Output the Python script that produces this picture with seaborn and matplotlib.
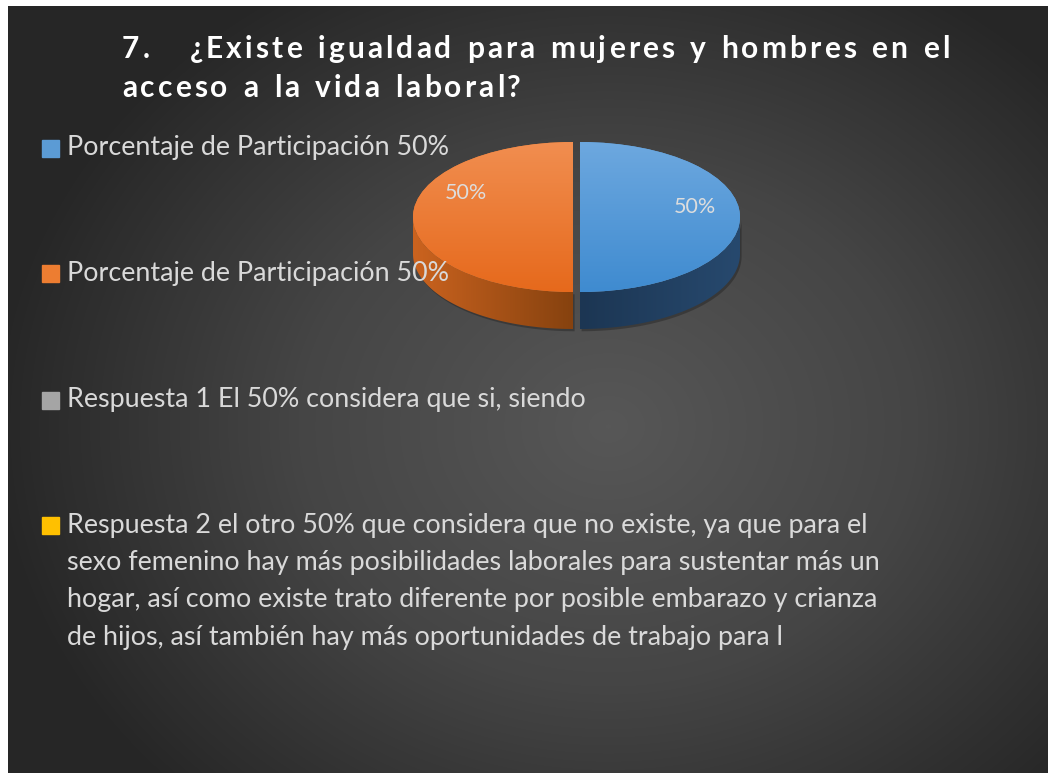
import numpy as np
import matplotlib.pyplot as plt
import seaborn as sns
from matplotlib.patches import Rectangle, Polygon
from matplotlib.colors import LinearSegmentedColormap

sns.set_theme(style="white")
plt.rcParams['font.family'] = ['Lato', 'DejaVu Sans']

# data
title_lines = ["7.   ¿Existe igualdad para mujeres y hombres en el",
               "acceso a la vida laboral?"]
categories = ["Porcentaje de Participación 50%",
              "Porcentaje de Participación 50%",
              "Respuesta 1 El 50% considera que si, siendo",
              "Respuesta 2 el otro 50% que considera que no existe, ya que para el\n"
              "sexo femenino hay más posibilidades laborales para sustentar más un\n"
              "hogar, así como existe trato diferente por posible embarazo y crianza\n"
              "de hijos, así también hay más oportunidades de trabajo para l"]
shares = [50, 50]
cat_colors = ["#5B9BD5", "#ED7D31", "#A5A5A5", "#FFC000"]
top_grad = [("#6DA8DF", "#3F8BD0"), ("#F18E50", "#E6691C")]
side_grad = [("#1C3653", "#27496E"), ("#CB631F", "#86420F")]

W, H = 1055, 773
fig = plt.figure(figsize=(W / 100, H / 100), dpi=100, facecolor="white")

# radial gradient panel
bg = fig.add_axes([8 / W, 0, 1040 / W, 767 / H])
yy, xx = np.mgrid[0:767, 0:1040]
d = np.hypot((xx - 600) / 620, (yy - 420) / 520)
d = np.clip(d, 0, 1)
bg_cmap = LinearSegmentedColormap.from_list("bg", ["#575757", "#454545", "#262626"])
bg.imshow(d, cmap=bg_cmap, aspect="auto", vmin=0, vmax=1)
bg.set_axis_off()

# title with letter spacing
renderer = fig.canvas.get_renderer()
def spaced_text(x, y, s, spacing, **kw):
    for ch in s:
        t = fig.text(x / W, 1 - y / H, ch, **kw)
        bb = t.get_window_extent(renderer)
        x += bb.width + spacing
        if ch == " ":
            x += 2

title_kw = dict(color="white", fontsize=21.5, fontweight="bold", va="baseline")
spaced_text(122, 58, title_lines[0], 3.1, **title_kw)
spaced_text(122, 97, title_lines[1], 3.1, **title_kw)

# legend entries
entry_y = [148, 273, 400, 525]
line_step = 37.5
for lab, col, y in zip(categories, cat_colors, entry_y):
    fig.patches.append(Rectangle((42 / W, 1 - (y + 8.5) / H), 17 / W, 17 / H,
                                 transform=fig.transFigure, color=col))
    for k, line in enumerate(lab.split("\n")):
        fig.text(67 / W, 1 - (y + k * line_step) / H, line, color="#D9D9D9",
                 fontsize=19.4, va="center")

# 3D-ish pie
cx_px, cy_px, rx, ry = 580, 217, 160, 75
xl, yl = (-1.1, 1.1), (-1.65, 1.1)
ax = fig.add_axes([(cx_px + xl[0] * rx) / W, 1 - (cy_px - yl[0] * ry) / H,
                   (xl[1] - xl[0]) * rx / W, (yl[1] - yl[0]) * ry / H])
depth = 37 / ry
wedges, texts, autotexts = ax.pie(shares, colors=cat_colors[:2], startangle=90,
                                  counterclock=False, explode=[0, 7 / rx],
                                  autopct="%1.0f%%", pctdistance=0.72,
                                  wedgeprops=dict(linewidth=0),
                                  textprops=dict(color="#DDDDDD", fontsize=15.5))
ax.set_aspect("auto")

for i, w in enumerate(wedges):
    cx, cy = w.center
    t = np.radians(np.linspace(w.theta1, w.theta2, 300))
    t = t[np.sin(t) <= 1e-9]
    px = cx + w.r * np.cos(t)
    py = cy + w.r * np.sin(t)
    verts = np.column_stack([np.r_[px, px[::-1]], np.r_[py, py[::-1] - depth]])
    # soft shadow
    sh = Polygon(verts + [0.01, -0.03], closed=True, color="black", alpha=0.25,
                 lw=0, zorder=0.5)
    ax.add_patch(sh)
    side = Polygon(verts, closed=True, facecolor="none", edgecolor="none", zorder=1)
    ax.add_patch(side)
    g = np.linspace(0, 1, 256)[None, :]
    cm = LinearSegmentedColormap.from_list("s%d" % i, side_grad[i])
    im = ax.imshow(g, cmap=cm, extent=[px.min(), px.max(), py.min() - depth, py.max()],
                   aspect="auto", zorder=1)
    im.set_clip_path(side)
    w.set_zorder(2)
    cm2 = LinearSegmentedColormap.from_list("t%d" % i, top_grad[i])
    gv = np.linspace(0, 1, 256)[:, None]
    im2 = ax.imshow(gv, cmap=cm2, extent=[cx - 1, cx + 1, cy - 1, cy + 1],
                    aspect="auto", zorder=2)
    im2.set_clip_path(w)

ax.set_xlim(*xl)
ax.set_ylim(*yl)
ax.set_axis_off()

autotexts[0].set_position((autotexts[0].get_position()[0], 0.13))
autotexts[1].set_position((autotexts[1].get_position()[0] + 0.05, 0.32))
for a in autotexts:
    a.set_zorder(5)

fig.savefig("out.png", dpi=100, facecolor="white")
